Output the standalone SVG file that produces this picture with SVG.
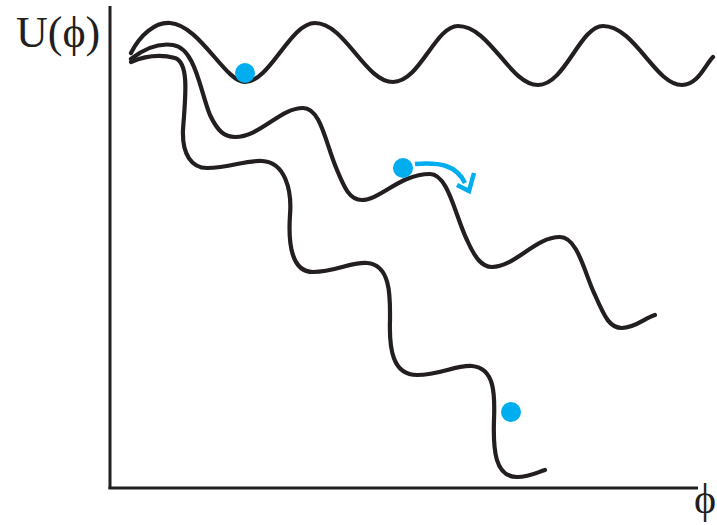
<svg xmlns="http://www.w3.org/2000/svg" width="717" height="525" viewBox="0 0 717 525">
<style>
.axis{stroke:#231f20;stroke-width:3;fill:none}
.pot{stroke:#231f20;stroke-width:4.2;fill:none;stroke-linecap:round;stroke-linejoin:round}
.ball{fill:#00aeef}
.arr{stroke:#00aeef;stroke-width:4.5;fill:none;stroke-linecap:butt;stroke-linejoin:miter}
.lbl{font-family:"Liberation Serif","Times New Roman",serif;fill:#231f20}
</style>
<rect width="717" height="525" fill="#fff"/>
<g id="axes">
<line class="axis" x1="110" y1="6" x2="110" y2="489"/>
<line class="axis" x1="108.5" y1="488" x2="698" y2="488"/>
<text class="lbl" x="16" y="47" font-size="44">U(ϕ)</text>
<text class="lbl" x="694" y="513" font-size="42">ϕ</text>
</g>
<g id="curves">
<path id="curve-top" class="pot" d="M131,53 C140,35 155,22 170,23 C200,25 225,82 245,82 C270,82 290,23 315,23 C345,23 365,82 393,82 C420,82 435,26 458,26 C490,26 510,85 538,85 C565,85 580,26 603,26 C635,26 655,85 682,85 C698,85 705,65 713,57"/>
<path id="curve-mid" class="pot" d="M131,59 C145,48 160,43 173,45 C195,48 200,90 210,115 C218,132 225,137 235,137 C260,137 280,108 303,108 C320,108 325,140 335,165 C345,190 350,200 362,200 C380,200 400,174 430,174 C448,174 455,215 467,240 C475,258 482,267 492,267 C515,267 535,237 560,237 C578,237 585,275 595,295 C605,318 610,328 622,328 C635,328 645,318 655,315"/>
<path id="curve-low" class="pot" d="M131,62 C145,56 160,54 175,58 C190,63 185,100 183,130 C182,155 192,168 207,168 C230,168 245,160 262,161 C285,162 292,190 290,215 C288,245 292,272 313,272 C335,272 350,262 367,263 C392,265 390,300 390,320 C389,350 393,375 417,375 C440,375 455,365 472,366 C495,368 495,395 494,420 C493,450 495,477 517,477 C530,477 538,472 545,470"/>
</g>
<g id="balls">
<circle class="ball" cx="245" cy="73" r="10"/>
<circle class="ball" cx="403" cy="168" r="10"/>
<circle class="ball" cx="511" cy="412" r="10"/>
</g>
<g id="arrow">
<path class="arr" d="M415,164 C440,162 456,165 465,183"/>
<path class="arr" d="M457,185 L469,191 L474,173"/>
</g>
</svg>
